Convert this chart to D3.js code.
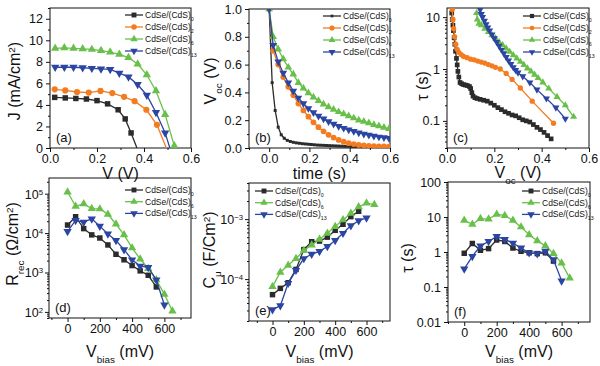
<!DOCTYPE html>
<html><head><meta charset="utf-8">
<script src="https://cdn.jsdelivr.net/npm/d3@7"></script>
<style>
body{margin:0;background:#fff}
svg{display:block}
text{font-family:"Liberation Sans",Arial,sans-serif;fill:#111}
</style>
</head><body>
<svg id="c" width="600" height="366"></svg>
<script>
// ---------------- DATA ----------------
const sampleSubs = ["0", "2", "6", "13"];
const legendBase = "CdSe/(CdS)";

// (a) J-V
const aV0 = [0.02, 0.065, 0.11, 0.155, 0.2, 0.245, 0.29, 0.32, 0.345, 0.37];
const aJ0 = [4.7, 4.65, 4.6, 4.55, 4.4, 4.1, 3.55, 2.7, 1.4, 0];
const aV2 = [0.02, 0.065, 0.115, 0.165, 0.215, 0.265, 0.315, 0.36, 0.41, 0.455, 0.495];
const aJ2 = [5.45, 5.35, 5.2, 5.15, 5.3, 5.1, 4.75, 4.35, 3.55, 2.15, 0];
const aV6 = [0.022, 0.061, 0.1, 0.139, 0.178, 0.217, 0.256, 0.295, 0.334, 0.373, 0.412, 0.451, 0.49, 0.529];
const aJ6 = [9.26, 9.3, 9.25, 9.2, 9.15, 9.05, 8.9, 8.7, 8.4, 7.8, 6.8, 5.3, 3.1, 0.2];
const aV13 = [0.022, 0.061, 0.1, 0.139, 0.178, 0.217, 0.256, 0.295, 0.334, 0.373, 0.412, 0.451, 0.49, 0.51];
const aJ13 = [7.5, 7.5, 7.5, 7.45, 7.4, 7.35, 7.3, 6.95, 6.6, 5.9, 4.9, 3.3, 1.4, 0];

// (b) Voc decay
const bT0 = [0, 0.015, 0.03, 0.045, 0.06, 0.075, 0.09, 0.105, 0.12, 0.135, 0.15, 0.165, 0.18, 0.195, 0.21, 0.225, 0.24, 0.255, 0.27, 0.285, 0.3, 0.315, 0.33, 0.345, 0.36, 0.375, 0.39, 0.405, 0.42, 0.435, 0.45, 0.465, 0.48, 0.495, 0.51, 0.525, 0.54, 0.555, 0.57, 0.585, 0.6];
const bV0 = [1.0, 0.47, 0.27, 0.15, 0.095, 0.07, 0.055, 0.047, 0.041, 0.037, 0.034, 0.031, 0.029, 0.027, 0.025, 0.023, 0.021, 0.02, 0.019, 0.018, 0.017, 0.016, 0.015, 0.014, 0.013, 0.012, 0.012, 0.011, 0.01, 0.01, 0.009, 0.009, 0.008, 0.008, 0.007, 0.007, 0.007, 0.006, 0.006, 0.006, 0.005];
const bT = [0, 0.02, 0.045, 0.07, 0.095, 0.12, 0.145, 0.17, 0.195, 0.22, 0.245, 0.27, 0.295, 0.32, 0.345, 0.37, 0.395, 0.42, 0.445, 0.47, 0.495, 0.52, 0.545, 0.57, 0.595];
const bV2 = [1.0, 0.70, 0.60, 0.51, 0.44, 0.38, 0.32, 0.27, 0.225, 0.185, 0.15, 0.12, 0.095, 0.075, 0.058, 0.045, 0.035, 0.028, 0.022, 0.018, 0.015, 0.013, 0.012, 0.011, 0.01];
const bV6 = [1.0, 0.80, 0.71, 0.64, 0.58, 0.53, 0.47, 0.43, 0.395, 0.365, 0.34, 0.315, 0.295, 0.277, 0.26, 0.245, 0.23, 0.215, 0.2, 0.19, 0.18, 0.168, 0.158, 0.148, 0.138];
const bV13 = [1.0, 0.74, 0.62, 0.54, 0.47, 0.41, 0.36, 0.32, 0.285, 0.255, 0.23, 0.21, 0.19, 0.172, 0.157, 0.143, 0.131, 0.12, 0.11, 0.101, 0.093, 0.086, 0.08, 0.075, 0.07];

// (c) lifetime vs Voc
const cV0 = [0.02, 0.022, 0.025, 0.027, 0.03, 0.033, 0.036, 0.04, 0.043, 0.046, 0.05, 0.055, 0.062, 0.07, 0.078, 0.086, 0.095, 0.1, 0.105, 0.11, 0.118, 0.127, 0.14, 0.155, 0.17, 0.185, 0.2, 0.215, 0.23, 0.245, 0.26, 0.275, 0.29, 0.305, 0.32, 0.335, 0.35, 0.365, 0.38, 0.395, 0.41, 0.425, 0.44];
const cT0 = [12, 9, 7, 5.5, 4, 3, 2.2, 1.6, 1.2, 0.9, 0.7, 0.55, 0.52, 0.5, 0.49, 0.48, 0.46, 0.42, 0.35, 0.3, 0.28, 0.27, 0.26, 0.25, 0.24, 0.22, 0.2, 0.18, 0.165, 0.15, 0.14, 0.13, 0.125, 0.115, 0.105, 0.1, 0.095, 0.085, 0.075, 0.068, 0.06, 0.052, 0.045];
const cV2 = [0.022, 0.025, 0.028, 0.032, 0.037, 0.043, 0.05, 0.06, 0.07, 0.085, 0.1, 0.115, 0.13, 0.145, 0.16, 0.175, 0.19, 0.205, 0.225, 0.25, 0.275, 0.31, 0.36, 0.45];
const cT2 = [14, 9, 6, 4.2, 3, 2.4, 2.1, 1.9, 1.75, 1.65, 1.55, 1.5, 1.42, 1.36, 1.3, 1.22, 1.15, 1.08, 1.0, 0.82, 0.63, 0.43, 0.24, 0.09];
const cV6 = [0.125, 0.128, 0.135, 0.145, 0.16, 0.175, 0.19, 0.205, 0.22, 0.235, 0.25, 0.265, 0.28, 0.295, 0.31, 0.325, 0.34, 0.355, 0.37, 0.385, 0.405, 0.43, 0.465, 0.5, 0.535];
const cT6 = [12, 9, 7.5, 7, 6, 5.2, 4.5, 3.9, 3.3, 2.9, 2.5, 2.15, 1.85, 1.6, 1.38, 1.2, 1.03, 0.9, 0.78, 0.67, 0.55, 0.42, 0.29, 0.2, 0.12];
const cV13 = [0.14, 0.145, 0.15, 0.158, 0.165, 0.172, 0.18, 0.19, 0.2, 0.21, 0.22, 0.23, 0.24, 0.25, 0.26, 0.27, 0.28, 0.29, 0.3, 0.32, 0.35, 0.38, 0.42, 0.46, 0.5];
const cT13 = [14, 11.5, 10, 8.5, 7.3, 6.3, 5.5, 4.6, 3.9, 3.3, 2.8, 2.35, 2.0, 1.7, 1.45, 1.25, 1.08, 0.95, 0.85, 0.72, 0.55, 0.4, 0.27, 0.18, 0.11];

// (d)(e)(f) impedance vs bias
const vbias = [0, 50, 100, 150, 200, 250, 300, 350, 400, 450, 500, 550, 600, 650];
const dR0 = [1.6e4, 2.6e4, 1.3e4, 9e3, 7.5e3, 5e3, 2.9e3, 2.1e3, 1.5e3, 1.1e3, 8.5e2, 4.3e2];
const dR6 = [1.1e5, 4.8e4, 5.5e4, 4.2e4, 4.1e4, 3e4, 1.7e4, 9e3, 4.2e3, 2.2e3, 1.25e3, 6.5e2, 2.8e2, 1.05e2];
const dR13 = [1.1e4, 2.1e4, 1.9e4, 2.3e4, 1.5e4, 9.5e3, 6.5e3, 3.8e3, 2.1e3, 1.45e3, 1.35e3, 6.5e2, 1.5e2];
const eC0 = [5.5e-5, 7e-5, 8.7e-5, 1.45e-4, 3.1e-4, 4.2e-4, 4.3e-4, 5e-4, 6.5e-4, 8.2e-4, 1.1e-3, 1.35e-3];
const eC6 = [7.5e-5, 1.3e-4, 1.7e-4, 2.2e-4, 3e-4, 3.7e-4, 4.6e-4, 5.8e-4, 7.5e-4, 9.7e-4, 1.25e-3, 1.6e-3, 1.85e-3, 1.75e-3];
const eC13 = [3.1e-5, 3.6e-5, 8.5e-5, 1.4e-4, 2.2e-4, 2.6e-4, 2.9e-4, 3.5e-4, 4.4e-4, 5.8e-4, 7.8e-4, 9.4e-4, 1.05e-3];
const fT0 = [0.92, 1.75, 1.12, 1.25, 2.2, 2.0, 1.3, 1.05, 0.95, 0.9, 0.95, 0.55];
const fT6 = [8, 6.2, 9, 8.7, 12, 11, 8, 5.2, 3.1, 2.1, 1.5, 0.9, 0.48, 0.18];
const fT13 = [0.33, 0.75, 1.5, 2.0, 2.8, 2.3, 1.8, 1.3, 0.95, 0.9, 1.05, 0.6, 0.15];

// ---------------- STYLE ----------------
const COL = {k: "#2b2b2b", o: "#f47c20", g: "#68c04a", b: "#2b45a2"};
const SYM = {k: d3.symbolSquare, o: d3.symbolCircle, g: d3.symbolTriangle, b: "down"};
const svg = d3.select("#c");

function rich(sel, parts, size) {
  parts.forEach(p => {
    const t = sel.append("tspan").text(p.t);
    if (p.sub) t.attr("font-size", size * 0.62).attr("baseline-shift", "sub");
    if (p.sup) t.attr("font-size", size * 0.62).attr("baseline-shift", "super");
  });
}
function marker(g, key, cx, cy, area) {
  if (key === "b") {
    g.append("path").attr("d", d3.symbol(d3.symbolTriangle, area)())
      .attr("transform", `translate(${cx},${cy}) rotate(180)`).attr("fill", COL.b);
  } else {
    g.append("path").attr("d", d3.symbol(SYM[key], area)())
      .attr("transform", `translate(${cx},${cy})`).attr("fill", COL[key]);
  }
}
function logMinor(lo, hi) {
  const out = [];
  for (let e = Math.floor(Math.log10(lo)); e <= Math.ceil(Math.log10(hi)); e++)
    for (let m = 2; m <= 9; m++) { const v = m * Math.pow(10, e); if (v >= lo && v <= hi) out.push(v); }
  return out;
}
let clipId = 0;
function panel(p) {
  const g = svg.append("g");
  const x = d3.scaleLinear().domain(p.xDomain).range([p.x0, p.x1]);
  const y = (p.yLog ? d3.scaleLog() : d3.scaleLinear()).domain(p.yDomain).range([p.y1, p.y0]);
  const fs = 12.5;
  // minor ticks
  g.append("g").attr("transform", `translate(0,${p.y1})`)
    .call(d3.axisBottom(x).tickValues(p.xMinor).tickSize(2).tickFormat("").tickSizeOuter(0))
    .call(s => s.select(".domain").remove());
  g.append("g").attr("transform", `translate(${p.x0},0)`)
    .call(d3.axisLeft(y).tickValues(p.yMinor).tickSize(2).tickFormat("").tickSizeOuter(0))
    .call(s => s.select(".domain").remove());
  // major ticks
  const xa = g.append("g").attr("transform", `translate(0,${p.y1})`)
    .call(d3.axisBottom(x).tickValues(p.xMajor).tickSize(4).tickPadding(2).tickFormat(p.xFmt).tickSizeOuter(0));
  xa.select(".domain").remove();
  xa.selectAll("text").attr("font-size", fs).attr("font-family", "Liberation Sans, Arial, sans-serif").attr("fill", "#111");
  const ya = g.append("g").attr("transform", `translate(${p.x0},0)`)
    .call(d3.axisLeft(y).tickValues(p.yMajor).tickSize(4).tickPadding(3).tickFormat(p.yPow ? () => "" : p.yFmt).tickSizeOuter(0));
  ya.select(".domain").remove();
  ya.selectAll("text").attr("font-size", fs).attr("font-family", "Liberation Sans, Arial, sans-serif").attr("fill", "#111");
  if (p.yPow) {
    p.yMajor.forEach(v => {
      const t = g.append("text").attr("x", p.x0 - 6).attr("y", y(v) + 5)
        .attr("text-anchor", "end").attr("font-size", fs);
      rich(t, [{t: "10"}, {t: String(Math.round(Math.log10(v))).replace("-", "\u2212"), sup: true}], fs);
    });
  }
  g.selectAll(".tick line").attr("stroke", "#111");
  // frame
  g.append("rect").attr("x", p.x0).attr("y", p.y0).attr("width", p.x1 - p.x0).attr("height", p.y1 - p.y0)
    .attr("fill", "none").attr("stroke", "#111").attr("stroke-width", 1);
  // clip
  const cid = "clip" + (clipId++);
  g.append("clipPath").attr("id", cid).append("rect")
    .attr("x", p.x0).attr("y", p.y0).attr("width", p.x1 - p.x0).attr("height", p.y1 - p.y0);
  const plot = g.append("g").attr("clip-path", `url(#${cid})`);
  p.series.forEach(s => {
    const pts = s.xs.map((xv, i) => [xv, s.ys[i]]).filter(d => d[1] !== undefined);
    plot.append("path").attr("d", d3.line().x(d => x(d[0])).y(d => y(d[1]))(pts))
      .attr("fill", "none").attr("stroke", COL[s.c]).attr("stroke-width", 1.3);
    pts.forEach(d => { if (!(s.skipZero && d[1] === 0)) marker(plot, s.c, x(d[0]), y(d[1]), s.size || p.msize); });
  });
  // legend
  p.series.forEach((s, i) => {
    const ly = p.leg[1] + i * p.leg[2];
    const lx = p.leg[0];
    g.append("line").attr("x1", lx).attr("x2", lx + 18).attr("y1", ly).attr("y2", ly)
      .attr("stroke", COL[s.c]).attr("stroke-width", 1.3);
    marker(g, s.c, lx + 9, ly, (s.size || p.msize) * 0.8);
    const t = g.append("text").attr("x", lx + 20).attr("y", ly + 3).attr("font-size", 8.5);
    rich(t, [{t: legendBase}, {t: s.sub, sub: true}], 8.5);
  });
  // panel label
  g.append("text").attr("x", p.x0 + 6).attr("y", p.y1 - 6).attr("font-size", 13).text(p.tag);
  // titles
  const xt = g.append("text").attr("x", (p.x0 + p.x1) / 2).attr("y", p.xtY)
    .attr("text-anchor", "middle").attr("font-size", 16);
  rich(xt, p.xTitle, 16);
  const yt = g.append("text").attr("transform", `translate(${p.ytX},${p.ytC}) rotate(-90)`)
    .attr("text-anchor", "middle").attr("font-size", 16);
  rich(yt, p.yTitle, 16);
}

const f1 = d3.format(".1f");
const fInt = d3.format("d");
const fLog = v => (v >= 1 ? String(v) : String(+v.toPrecision(1)));
const vb = n => vbias.slice(0, n);

panel({tag: "(a)", x0: 50, x1: 191, y0: 8, y1: 148, xDomain: [0, 0.6], yDomain: [0, 13],
  xMajor: [0, 0.2, 0.4, 0.6], xMinor: [0.1, 0.3, 0.5], xFmt: f1,
  yMajor: [0, 2, 4, 6, 8, 10, 12], yMinor: [1, 3, 5, 7, 9, 11, 13], yFmt: fInt, msize: 30,
  series: [
    {c: "k", sub: sampleSubs[0], xs: aV0, ys: aJ0, skipZero: true},
    {c: "o", sub: sampleSubs[1], xs: aV2, ys: aJ2, skipZero: true},
    {c: "g", sub: sampleSubs[2], xs: aV6, ys: aJ6, skipZero: true},
    {c: "b", sub: sampleSubs[3], xs: aV13, ys: aJ13, skipZero: true}],
  leg: [125, 15, 12], xtY: 179, ytX: 20, ytC: 81,
  xTitle: [{t: "V (V)"}], yTitle: [{t: "J (mA/cm"}, {t: "2", sup: true}, {t: ")"}]});

panel({tag: "(b)", x0: 249, x1: 390, y0: 9, y1: 148, xDomain: [-0.1, 0.6], yDomain: [0, 1],
  xMajor: [0, 0.2, 0.4, 0.6], xMinor: [-0.1, 0.1, 0.3, 0.5], xFmt: f1,
  yMajor: [0, 0.2, 0.4, 0.6, 0.8, 1.0], yMinor: [0.1, 0.3, 0.5, 0.7, 0.9], yFmt: f1, msize: 26,
  series: [
    {c: "k", sub: sampleSubs[0], xs: bT0, ys: bV0, size: 9},
    {c: "o", sub: sampleSubs[1], xs: bT, ys: bV2},
    {c: "g", sub: sampleSubs[2], xs: bT, ys: bV6},
    {c: "b", sub: sampleSubs[3], xs: bT, ys: bV13}],
  leg: [323, 16, 12], xtY: 179, ytX: 216, ytC: 81,
  xTitle: [{t: "time (s)"}], yTitle: [{t: "V"}, {t: "oc", sub: true}, {t: " (V)"}]});

panel({tag: "(c)", x0: 447, x1: 589, y0: 8, y1: 148, xDomain: [0, 0.6], yDomain: [0.03, 15], yLog: true,
  xMajor: [0, 0.2, 0.4, 0.6], xMinor: [0.1, 0.3, 0.5], xFmt: f1,
  yMajor: [0.1, 1, 10], yMinor: logMinor(0.03, 15), yFmt: fLog, msize: 22,
  series: [
    {c: "k", sub: sampleSubs[0], xs: cV0, ys: cT0},
    {c: "o", sub: sampleSubs[1], xs: cV2, ys: cT2},
    {c: "g", sub: sampleSubs[2], xs: cV6, ys: cT6},
    {c: "b", sub: sampleSubs[3], xs: cV13, ys: cT13}],
  leg: [523, 16, 12], xtY: 178, ytX: 428, ytC: 86,
  xTitle: [{t: "V"}, {t: "oc", sub: true}, {t: " (V)"}], yTitle: [{t: "\u03c4 (s)"}]});

panel({tag: "(d)", x0: 49, x1: 191, y0: 178, y1: 318, xDomain: [-115, 765], yDomain: [70, 2.5e5], yLog: true,
  xMajor: [0, 200, 400, 600], xMinor: [-100, 100, 300, 500, 700], xFmt: fInt,
  yMajor: [1e2, 1e3, 1e4, 1e5], yMinor: logMinor(70, 2.5e5), yPow: true, msize: 30,
  series: [
    {c: "k", sub: sampleSubs[0], xs: vb(dR0.length), ys: dR0},
    {c: "g", sub: sampleSubs[2], xs: vb(dR6.length), ys: dR6},
    {c: "b", sub: sampleSubs[3], xs: vb(dR13.length), ys: dR13}],
  leg: [125, 190, 11.7], xtY: 357, ytX: 18, ytC: 244,
  xTitle: [{t: "V"}, {t: "bias", sub: true}, {t: " (mV)"}],
  yTitle: [{t: "R"}, {t: "rec", sub: true}, {t: " (\u03a9/cm"}, {t: "2", sup: true}, {t: ")"}]});

panel({tag: "(e)", x0: 249, x1: 390, y0: 183, y1: 321, xDomain: [-150, 750], yDomain: [2e-5, 4e-3], yLog: true,
  xMajor: [0, 200, 400, 600], xMinor: [-100, 100, 300, 500, 700], xFmt: fInt,
  yMajor: [1e-4, 1e-3], yMinor: logMinor(2e-5, 4e-3), yPow: true, msize: 30,
  series: [
    {c: "k", sub: sampleSubs[0], xs: vb(eC0.length), ys: eC0},
    {c: "g", sub: sampleSubs[2], xs: vb(eC6.length), ys: eC6},
    {c: "b", sub: sampleSubs[3], xs: vb(eC13.length), ys: eC13}],
  leg: [255, 191, 11.7], xtY: 357, ytX: 215, ytC: 250,
  xTitle: [{t: "V"}, {t: "bias", sub: true}, {t: " (mV)"}],
  yTitle: [{t: "C"}, {t: "\u03bc", sub: true}, {t: " (F/Cm"}, {t: "2", sup: true}, {t: ")"}]});

panel({tag: "(f)", x0: 448, x1: 590, y0: 182, y1: 322, xDomain: [-100, 775], yDomain: [0.01, 100], yLog: true,
  xMajor: [0, 200, 400, 600], xMinor: [-100, 100, 300, 500, 700], xFmt: fInt,
  yMajor: [0.01, 0.1, 1, 10, 100], yMinor: logMinor(0.01, 100), yFmt: fLog, msize: 30,
  series: [
    {c: "k", sub: sampleSubs[0], xs: vb(fT0.length), ys: fT0},
    {c: "g", sub: sampleSubs[2], xs: vb(fT6.length), ys: fT6},
    {c: "b", sub: sampleSubs[3], xs: vb(fT13.length), ys: fT13}],
  leg: [522, 191, 11.7], xtY: 357, ytX: 413, ytC: 258,
  xTitle: [{t: "V"}, {t: "bias", sub: true}, {t: " (mV)"}], yTitle: [{t: "\u03c4 (s)"}]});
</script>
</body></html>
